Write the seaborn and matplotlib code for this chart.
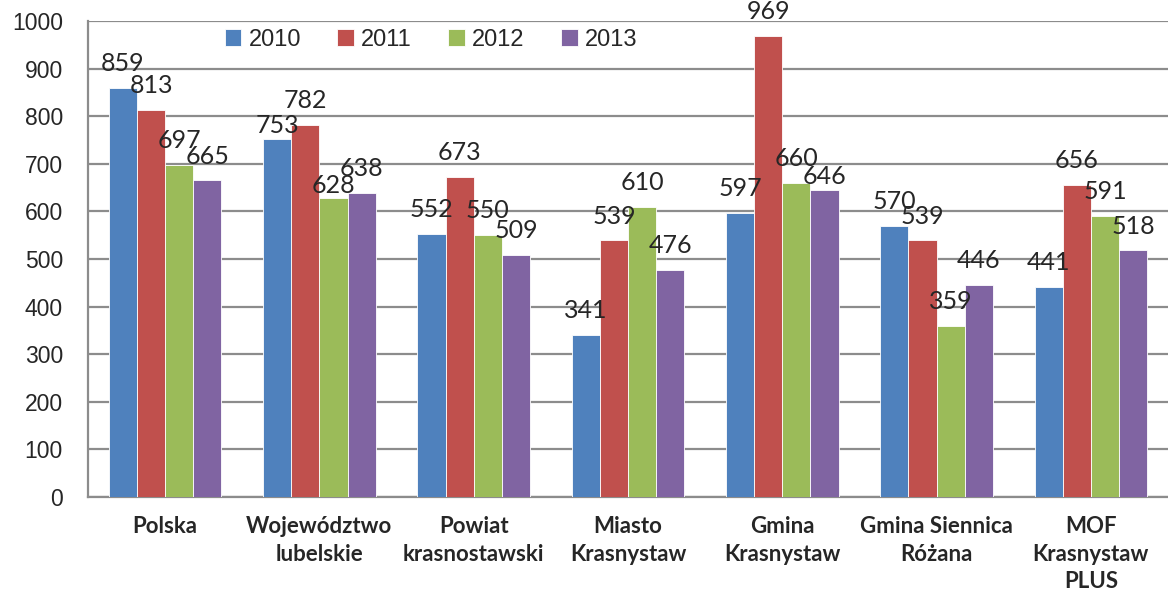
import pandas as pd
import seaborn as sns
import matplotlib.pyplot as plt

categories = ['Polska', 'Województwo\nlubelskie', 'Powiat\nkrasnostawski', 'Miasto\nKrasnystaw',
              'Gmina\nKrasnystaw', 'Gmina Siennica\nRóżana', 'MOF\nKrasnystaw\nPLUS']
years = ['2010', '2011', '2012', '2013']
v2010 = [859, 753, 552, 341, 597, 570, 441]
v2011 = [813, 782, 673, 539, 969, 539, 656]
v2012 = [697, 628, 550, 610, 660, 359, 591]
v2013 = [665, 638, 509, 476, 646, 446, 518]
colors = ['#4F81BD', '#C0504D', '#9BBB59', '#8064A2']

rows = []
for y, vals in zip(years, [v2010, v2011, v2012, v2013]):
    for c, v in zip(categories, vals):
        rows.append({'cat': c, 'year': y, 'value': v})
df = pd.DataFrame(rows)

sns.set_style('white')
plt.rcParams['font.family'] = ['Liberation Sans', 'DejaVu Sans']

fig = plt.figure(figsize=(11.68, 5.94), dpi=100)
ax = fig.add_axes([0.0753, 0.1633, 0.9247, 0.8013])

sns.barplot(data=df, x='cat', y='value', hue='year', order=categories, hue_order=years,
            palette=colors, width=0.73, edgecolor='white', linewidth=0.6,
            saturation=1, ax=ax, zorder=3)

# data labels like excel: above the bar, the lower one of two close neighbours drops down
series = [v2010, v2011, v2012, v2013]
for k, cont in enumerate(ax.containers):
    for i, bar in enumerate(cont):
        val = series[k][i]
        near = []
        if k > 0:
            near.append(series[k - 1][i])
        if k < 3:
            near.append(series[k + 1][i])
        low = any(0 < n - val < 30 for n in near)
        off = 4 if low else 12.2
        ax.annotate(str(val), (bar.get_x() + bar.get_width() / 2, val),
                    xytext=(0, off), textcoords='offset points',
                    ha='center', va='baseline', fontsize=18, family='Lato', zorder=4)

ax.set_ylim(0, 1000)
ax.set_xlim(-0.5, 6.5)
ax.set_yticks(range(0, 1001, 100))
ax.yaxis.grid(True, color='#8C8C8C', linewidth=1.6, zorder=0)
ax.set_axisbelow(True)
for s in ['top', 'right']:
    ax.spines[s].set_visible(False)
for s in ['left', 'bottom']:
    ax.spines[s].set_color('#8C8C8C')
    ax.spines[s].set_linewidth(1.6)
ax.tick_params(axis='y', labelsize=16.5, length=4, color='#8C8C8C', width=1.6, pad=14)
ax.tick_params(axis='x', length=0, pad=14)
for t in ax.get_xticklabels():
    t.set_fontfamily('Lato')
    t.set_fontweight('bold')
    t.set_fontsize(16)
    t.set_linespacing(1.38)
ax.set_xlabel('')
ax.set_ylabel('')

ax.legend(loc='upper left', bbox_to_anchor=(0.107, 1.028), ncol=4, frameon=False,
          fontsize=17, handlelength=0.7, handleheight=0.7, handletextpad=0.3,
          columnspacing=1.55)

fig.savefig('out.png', dpi=100)
